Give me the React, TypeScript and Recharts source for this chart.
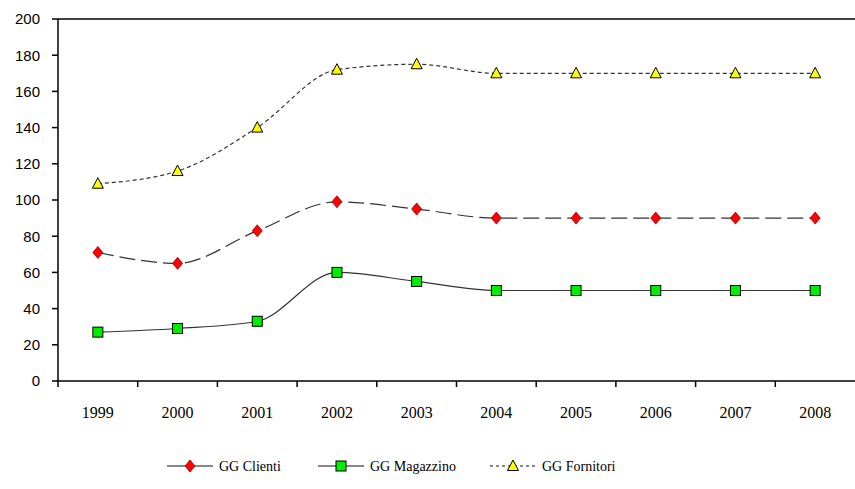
import React from 'react';
import { LineChart, Line, XAxis, YAxis, ReferenceLine, Legend } from 'recharts';

const years = ['1999', '2000', '2001', '2002', '2003', '2004', '2005', '2006', '2007', '2008'];
const clienti = [71, 65, 83, 99, 95, 90, 90, 90, 90, 90];
const magazzino = [27, 29, 33, 60, 55, 50, 50, 50, 50, 50];
const fornitori = [109, 116, 140, 172, 175, 170, 170, 170, 170, 170];
const yTicks = [0, 20, 40, 60, 80, 100, 120, 140, 160, 180, 200];

const data = years.map((y, i) => ({
  year: y,
  clienti: clienti[i],
  magazzino: magazzino[i],
  fornitori: fornitori[i],
}));

const W = 855;
const H = 489;
const BAND = (W - 58) / years.length;
const SERIF = { fontFamily: '"Liberation Serif", "Times New Roman", serif' };

const Diamond = ({ cx, cy }: any) => (
  <path d={`M${cx},${cy - 6} L${cx + 5},${cy} L${cx},${cy + 6} L${cx - 5},${cy} Z`} fill="#ff0000" stroke="#a00000" strokeWidth={0.8} />
);
const Square = ({ cx, cy }: any) => (
  <rect x={cx - 5} y={cy - 5} width={10} height={10} fill="#00ee00" stroke="#000" strokeWidth={1} />
);
const Triangle = ({ cx, cy }: any) => (
  <path d={`M${cx},${cy - 6} L${cx + 5.5},${cy + 4.5} L${cx - 5.5},${cy + 4.5} Z`} fill="#ffff00" stroke="#000" strokeWidth={1} />
);

const XTick = ({ x, y, payload }: any) => (
  <g>
    <line x1={x - BAND / 2} y1={y - 8} x2={x - BAND / 2} y2={y - 2} stroke="#000" strokeWidth={1.5} />
    <text x={x} y={y + 29} textAnchor="middle" style={{ ...SERIF, fontSize: 16 }} fill="#000">
      {payload.value}
    </text>
  </g>
);

const legendItems = [
  { label: 'GG Clienti', x: 167, dash: undefined, Mark: Diamond },
  { label: 'GG Magazzino', x: 318, dash: undefined, Mark: Square },
  { label: 'GG Fornitori', x: 490, dash: '3 3', Mark: Triangle },
];

const LegendContent = () => (
  <svg width={W} height={30} style={{ display: 'block' }}>
    {legendItems.map(({ label, x, dash, Mark }) => (
      <g key={label}>
        <line x1={x} y1={15} x2={x + 46} y2={15} stroke="#111" strokeWidth={1.2} strokeDasharray={dash} />
        <Mark cx={x + 23} cy={15} />
        <text x={x + 52} y={19.5} style={{ ...SERIF, fontSize: 14 }} fill="#000">
          {label}
        </text>
      </g>
    ))}
  </svg>
);

export default function App() {
  return (
    <div style={{ position: 'absolute', left: 0, top: 0, width: W, height: H, background: '#fff' }}>
      <LineChart width={W} height={H} data={data} margin={{ top: 19, right: 0, left: 0, bottom: 0 }}>
        <XAxis
          dataKey="year"
          scale="band"
          axisLine={{ stroke: '#000', strokeWidth: 1.5 }}
          tickLine={false}
          tick={<XTick />}
          height={78}
          interval={0}
        />
        <YAxis
          domain={[0, 200]}
          ticks={yTicks}
          width={58}
          axisLine={{ stroke: '#000', strokeWidth: 1.5 }}
          tickLine={{ stroke: '#000', strokeWidth: 1.5 }}
          tickSize={6}
          tickMargin={12}
          tick={{ fontFamily: '"Liberation Sans", Arial, sans-serif', fontSize: 15, fill: '#000' }}
        />
        <ReferenceLine y={200} stroke="#000" strokeWidth={1.5} />
        <Legend verticalAlign="bottom" content={<LegendContent />} wrapperStyle={{ left: 0, bottom: 8 }} />
        <Line
          type="monotone"
          dataKey="clienti"
          name="GG Clienti"
          stroke="#333"
          strokeWidth={1.2}
          strokeDasharray="16 6"
          dot={<Diamond />}
          isAnimationActive={false}
        />
        <Line
          type="monotone"
          dataKey="magazzino"
          name="GG Magazzino"
          stroke="#333"
          strokeWidth={1.2}
          dot={<Square />}
          isAnimationActive={false}
        />
        <Line
          type="monotone"
          dataKey="fornitori"
          name="GG Fornitori"
          stroke="#333"
          strokeWidth={1.2}
          strokeDasharray="4 3"
          dot={<Triangle />}
          isAnimationActive={false}
        />
      </LineChart>
    </div>
  );
}
